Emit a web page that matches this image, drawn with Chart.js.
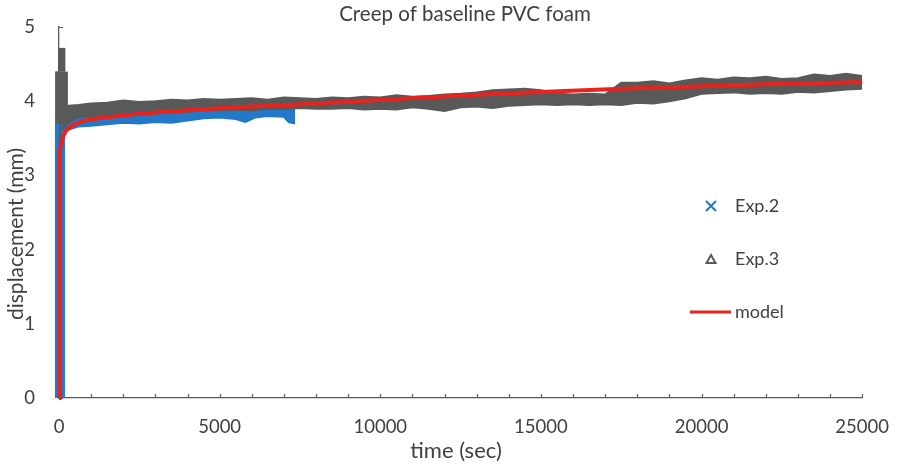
<!DOCTYPE html>
<html lang="en">
<head>
<meta charset="UTF-8">
<title>Creep of baseline PVC foam</title>
<script src="https://cdn.jsdelivr.net/npm/chart.js"></script>
<style>
  html, body { margin: 0; padding: 0; background: #fff; }
</style>
</head>
<body>
<canvas id="creepChart" width="899" height="468"></canvas>

<script>
// time (sec) and displacement (mm)
const exp3Time  = [100, 300, 600, 1000, 1500, 2000, 2500, 3000, 3500, 4000, 4500, 5000, 5500, 6000, 6500, 7000, 7500, 8000, 8500, 9000, 9500, 10000, 10500, 11000, 11500, 12000, 12500, 13000, 13500, 14000, 14500, 15000, 15500, 16000, 16500, 17000, 17500, 18000, 18500, 19000, 19500, 20000, 20500, 21000, 21500, 22000, 22500, 23000, 23500, 24000, 24500, 25000];
const exp3Upper = [3.93, 3.94, 3.95, 3.97, 3.98, 4.01, 3.99, 4.00, 4.02, 4.01, 4.03, 4.02, 4.03, 4.04, 4.02, 4.05, 4.04, 4.03, 4.05, 4.04, 4.06, 4.05, 4.08, 4.06, 4.07, 4.09, 4.10, 4.12, 4.15, 4.16, 4.17, 4.15, 4.10, 4.09, 4.10, 4.09, 4.25, 4.25, 4.27, 4.24, 4.28, 4.31, 4.29, 4.32, 4.31, 4.33, 4.30, 4.31, 4.36, 4.34, 4.37, 4.34];
const exp3Lower = [3.62, 3.72, 3.79, 3.80, 3.80, 3.80, 3.83, 3.84, 3.85, 3.86, 3.88, 3.88, 3.89, 3.88, 3.90, 3.90, 3.91, 3.90, 3.90, 3.91, 3.89, 3.90, 3.89, 3.92, 3.90, 3.87, 3.92, 3.93, 3.91, 3.94, 3.95, 3.96, 3.95, 3.96, 3.95, 3.96, 3.95, 3.98, 3.97, 4.00, 4.04, 4.10, 4.11, 4.12, 4.10, 4.11, 4.10, 4.13, 4.12, 4.14, 4.16, 4.17];

const exp2Time  = [100, 300, 600, 1000, 1500, 2000, 2500, 3000, 3500, 4000, 4500, 5000, 5500, 5800, 6100, 6500, 7000, 7150, 7350];
const exp2Upper = [3.80, 3.85, 3.86, 3.87, 3.87, 3.88, 3.88, 3.89, 3.89, 3.90, 3.90, 3.91, 3.91, 3.91, 3.92, 3.92, 3.92, 3.90, 3.89];
const exp2Lower = [3.55, 3.62, 3.66, 3.67, 3.69, 3.71, 3.70, 3.72, 3.71, 3.74, 3.77, 3.78, 3.76, 3.72, 3.78, 3.80, 3.79, 3.72, 3.70];

// loading spikes at t = 0
const exp2LoadTime = [30, 30];
const exp2Load     = [0, 4.40];
const exp3LoadTime = [90, 90, 90];
const exp3Load     = [3.70, 4.40, 4.72];
const exp3RampTime = [40, 40];
const exp3Ramp     = [0, 3.70];

const modelTime = [0, 10, 30, 60, 120, 216, 350, 525, 800, 1236, 2256, 3000, 4326, 6000, 7100, 10500, 13600, 17500, 19800, 22000, 25000];
const model     = [0, 3.00, 3.30, 3.42, 3.52, 3.60, 3.66, 3.70, 3.74, 3.77, 3.82, 3.85, 3.89, 3.93, 3.95, 4.03, 4.10, 4.17, 4.20, 4.23, 4.26];

const xTickLabels = [0, 5000, 10000, 15000, 20000, 25000];
const yTickLabels = [0, 1, 2, 3, 4, 5];

const BLUE = '#2378c8';
const GRAY = '#595959';
const RED = '#e8231d';
const TEXT = '#404040';
const FONT = 'Lato, "Open Sans", sans-serif';

const pts = (xs, ys) => xs.map((x, i) => ({ x: x, y: ys[i] }));

// inward tick marks, axis titles and the in-plot legend
const decorations = {
  id: 'decorations',
  beforeDatasetsDraw(chart) {
    const ctx = chart.ctx;
    const x = chart.scales.x, y = chart.scales.y;
    ctx.save();
    ctx.strokeStyle = GRAY;
    ctx.lineWidth = 1.2;
    ctx.beginPath();
    for (let v = 1000; v <= 25000; v += 1000) {
      const px = Math.round(x.getPixelForValue(v)) + 0.5;
      ctx.moveTo(px, y.bottom);
      ctx.lineTo(px, y.bottom - 4);
    }
    yTickLabels.forEach(v => {
      const py = Math.round(y.getPixelForValue(v)) + 0.5;
      ctx.moveTo(x.left, py);
      ctx.lineTo(x.left + 4, py);
    });
    ctx.stroke();
    ctx.restore();
  },
  afterDraw(chart) {
    const ctx = chart.ctx;
    ctx.save();
    ctx.fillStyle = TEXT;
    ctx.textBaseline = 'middle';
    ctx.textAlign = 'center';

    ctx.font = '20.5px ' + FONT;
    ctx.fillText('Creep of baseline PVC foam', 465, 14);

    ctx.font = '22px ' + FONT;
    ctx.fillText('time (sec)', 456, 451);
    ctx.font = '21px ' + FONT;
    ctx.save();
    ctx.translate(16, 234);
    ctx.rotate(-Math.PI / 2);
    ctx.fillText('displacement (mm)', 0, 0);
    ctx.restore();

    // legend
    ctx.textAlign = 'left';
    ctx.font = '18px ' + FONT;
    ctx.strokeStyle = BLUE;
    ctx.lineWidth = 2;
    ctx.beginPath();
    ctx.moveTo(706, 201); ctx.lineTo(716, 211);
    ctx.moveTo(716, 201); ctx.lineTo(706, 211);
    ctx.stroke();
    ctx.fillText('Exp.2', 735, 206);

    ctx.strokeStyle = GRAY;
    ctx.beginPath();
    ctx.moveTo(711, 255); ctx.lineTo(715.5, 263); ctx.lineTo(706.5, 263); ctx.closePath();
    ctx.stroke();
    ctx.fillText('Exp.3', 735, 259);

    ctx.strokeStyle = RED;
    ctx.lineWidth = 3;
    ctx.beginPath();
    ctx.moveTo(690, 312); ctx.lineTo(731, 312);
    ctx.stroke();
    ctx.fillText('model', 735, 312);
    ctx.restore();
  }
};

const ctx = document.getElementById('creepChart').getContext('2d');
new Chart(ctx, {
  type: 'line',
  data: {
    datasets: [
      { label: 'model', data: pts(modelTime, model), borderColor: RED, borderWidth: 4, fill: false, order: 0, clip: false },
      { label: 'Exp.3', data: pts(exp3Time, exp3Upper), borderColor: GRAY, backgroundColor: GRAY, borderWidth: 2, fill: '+1', order: 1 },
      { label: 'Exp.3 low', data: pts(exp3Time, exp3Lower), borderColor: GRAY, borderWidth: 2, fill: false, order: 1 },
      { label: 'Exp.3 load', data: pts(exp3LoadTime, exp3Load), borderColor: GRAY, borderWidth: 12, fill: false, order: 1, clip: false,
        segment: { borderWidth: c => c.p0DataIndex === 0 ? 12 : 7 } },
      { label: 'Exp.3 ramp', data: pts(exp3RampTime, exp3Ramp), borderColor: GRAY, borderWidth: 2, fill: false, order: 1, clip: false },
      { label: 'Exp.2', data: pts(exp2Time, exp2Upper), borderColor: BLUE, backgroundColor: BLUE, borderWidth: 2, fill: '+1', order: 2 },
      { label: 'Exp.2 low', data: pts(exp2Time, exp2Lower), borderColor: BLUE, borderWidth: 2, fill: false, order: 2 },
      { label: 'Exp.2 load', data: pts(exp2LoadTime, exp2Load), borderColor: BLUE, borderWidth: 10, fill: false, order: 3, clip: false }
    ]
  },
  options: {
    responsive: false,
    animation: false,
    elements: { point: { radius: 0 }, line: { tension: 0 } },
    layout: { padding: { top: 25, right: 30, left: 0, bottom: 0 } },
    plugins: {
      legend: { display: false },
      tooltip: { enabled: false }
    },
    scales: {
      x: {
        type: 'linear', min: 0, max: 25000,
        afterBuildTicks: s => { s.ticks = xTickLabels.map(v => ({ value: v })); },
        ticks: { color: TEXT, font: { family: FONT, size: 18.5 }, padding: 10, maxRotation: 0, callback: v => String(v) },
        grid: { display: false },
        border: { display: true, color: GRAY, width: 1.3 },
        afterFit: s => { s.height = 70; }
      },
      y: {
        type: 'linear', min: 0, max: 5,
        afterBuildTicks: s => { s.ticks = yTickLabels.map(v => ({ value: v })); },
        ticks: { color: TEXT, font: { family: FONT, size: 18.5 }, padding: 16, callback: v => String(v) },
        grid: { display: false },
        border: { display: true, color: GRAY, width: 1.3 },
        afterFit: s => { s.width = 59; }
      }
    }
  },
  plugins: [decorations]
});
</script>
</body>
</html>
